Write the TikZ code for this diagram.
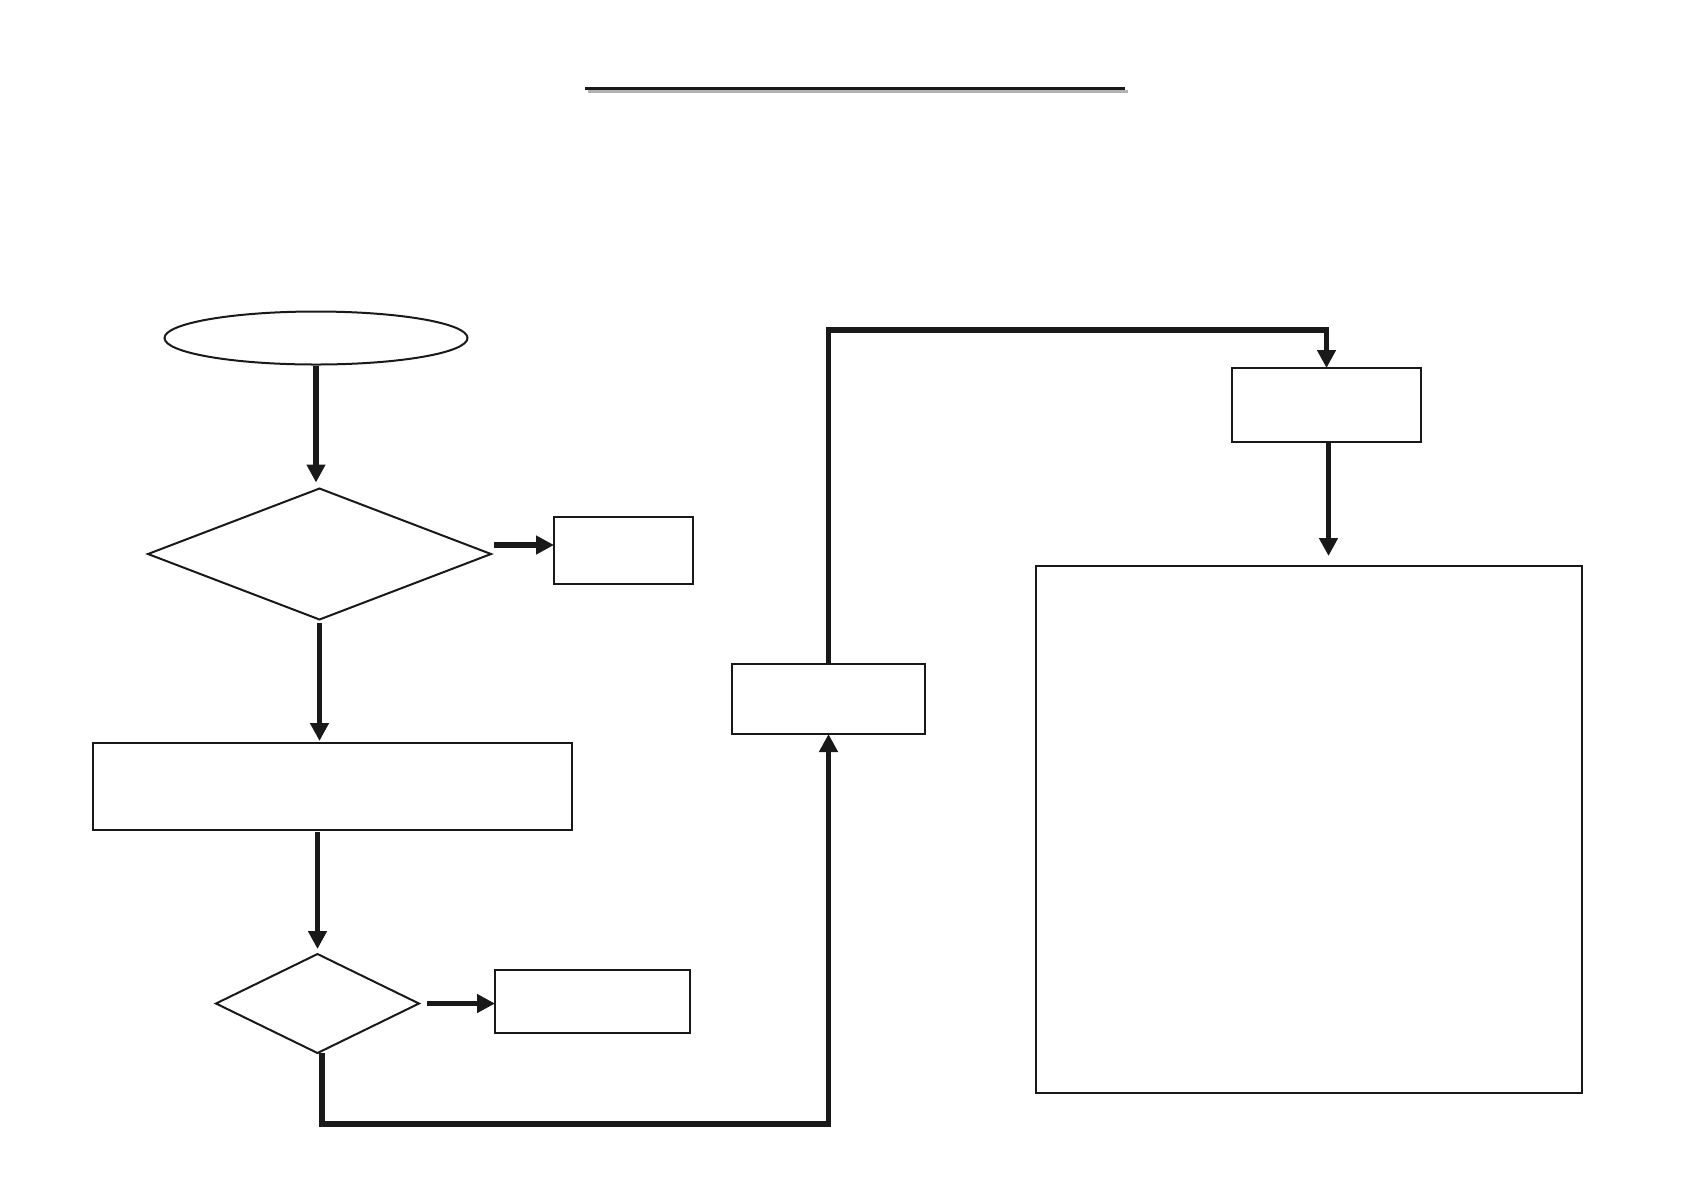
\documentclass[tikz,border=0pt]{standalone}
\usetikzlibrary{shapes.geometric,arrows.meta}

\begin{document}
\begin{tikzpicture}[x=0.5pt, y=-0.5pt,
    box/.style={rectangle, draw=black!90, line width=1pt, inner sep=0pt, outer sep=0pt},
    decision/.style={diamond, draw=black!90, line width=1pt, inner sep=0pt, outer sep=0pt},
    flow/.style={draw=black!90, line width=2.9pt, -{Triangle[length=9pt,width=9pt]}}]
  \useasboundingbox (0,0) rectangle (1684,1190);

  % title rule with its shadow
  \draw[black!30, line width=1.5pt] (588,91) -- (1128,91);
  \draw[black!90, line width=1.5pt] (585,88) -- (1125,88);

  \node (start) [ellipse, draw=black!90, line width=1pt, inner sep=0pt, minimum width=151.5pt, minimum height=26.5pt] at (316,338) {};
  \node (test1) [decision, minimum width=171.5pt, minimum height=65.5pt] at (319.5,554) {};
  \node (exitA) [box, minimum width=69.5pt, minimum height=33.5pt] at (623.5,550.5) {};
  \node (stage) [box, minimum width=239.5pt, minimum height=43.5pt] at (332.5,786.5) {};
  \node (test2) [decision, minimum width=101.5pt, minimum height=49.5pt] at (317.5,1003.5) {};
  \node (exitB) [box, minimum width=97.5pt, minimum height=31.5pt] at (592.5,1001.5) {};
  \node (relay) [box, minimum width=96.5pt, minimum height=35pt] at (828.5,699) {};
  \node (report) [box, minimum width=94.5pt, minimum height=37pt] at (1326.5,405) {};
  \node (summary) [box, minimum width=273pt, minimum height=263.5pt] at (1309,829.5) {};

  \coordinate (inA) at ([yshift=2.75pt]exitA.west);
  \coordinate (outB) at ([xshift=2.25pt]test2.south);
  \coordinate (outD) at ([xshift=1pt]report.south);

  \draw[flow, shorten >=3pt] (start.south) -- (start.south |- test1.north);
  \draw[flow, shorten <=1.5pt] (test1.east |- inA) -- (inA);
  \draw[flow, shorten <=1.5pt, shorten >=1pt] (test1.south) -- (test1.south |- stage.north);
  \draw[flow, shorten <=1pt, shorten >=2.5pt] (test2.north |- stage.south) -- (test2.north);
  \draw[flow, shorten <=4pt] (test2.east) -- (test2.east -| exitB.west);
  \draw[flow] (outB) -- ++(0,71) -| (relay.south);
  \draw[flow] (relay.north) -- ++(0,-334) -| (report.north);
  \draw[flow, shorten >=5pt] (outD) -- (outD |- summary.north);
\end{tikzpicture}
\end{document}
